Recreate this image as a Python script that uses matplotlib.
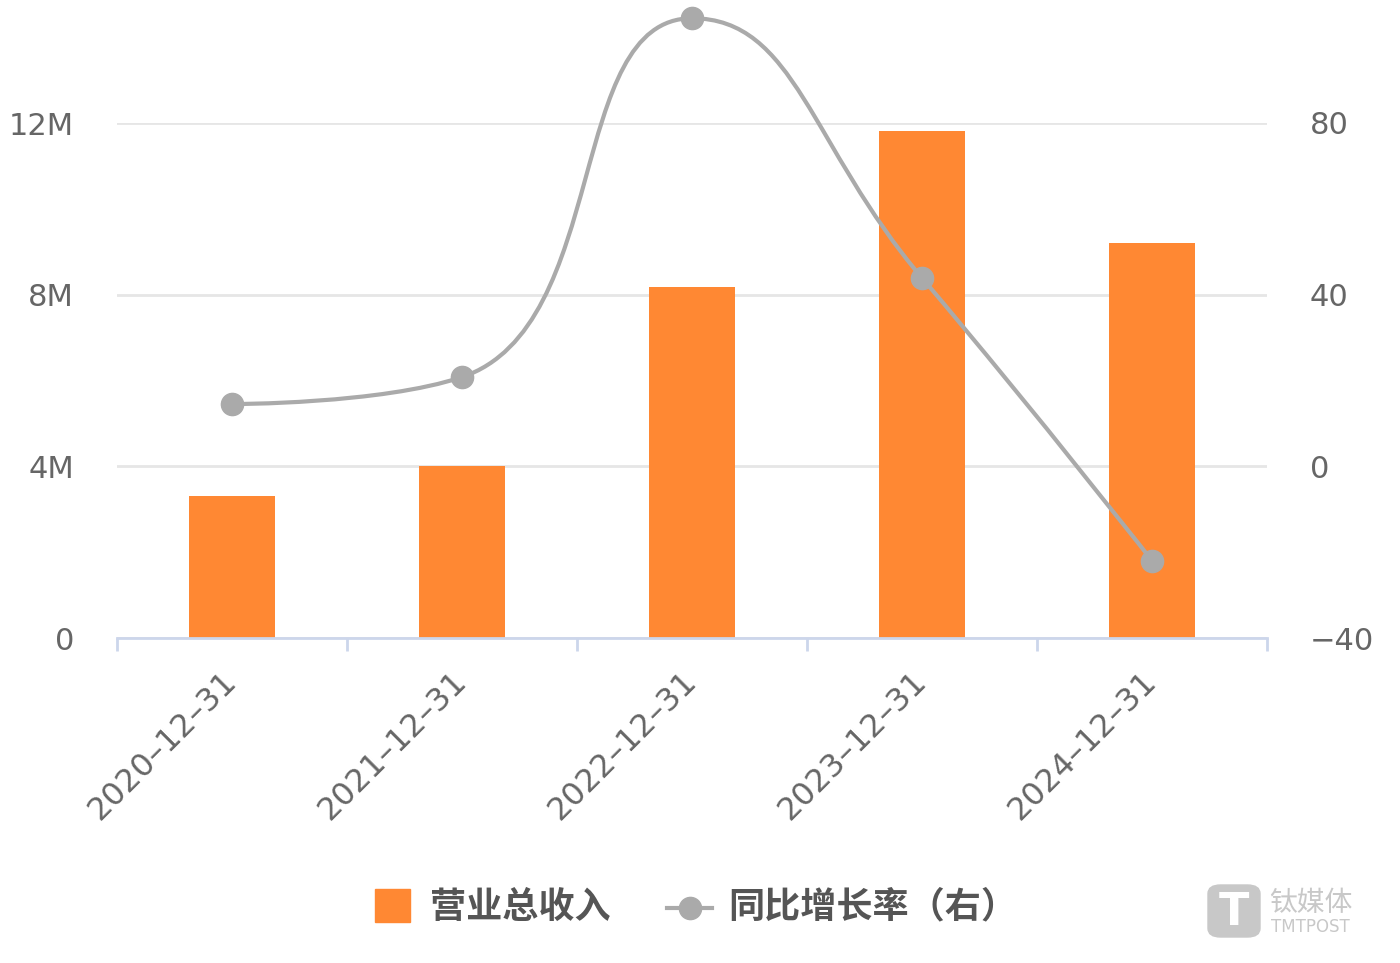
import matplotlib
matplotlib.use("Agg")
import matplotlib.pyplot as plt
from matplotlib.path import Path
from matplotlib.patches import PathPatch, Rectangle, FancyBboxPatch
from matplotlib.lines import Line2D
import numpy as np

plt.rcParams['font.family'] = ['DejaVu Sans', 'Noto Sans CJK SC']

# data
dates = ['2020-12-31', '2021-12-31', '2022-12-31', '2023-12-31', '2024-12-31']
revenue = [3.31, 4.00, 8.18, 11.82, 9.21]   # 百万 (M)
growth = [14.5, 20.8, 104.4, 43.9, -22.0]   # %
left_ticks = [0, 4, 8, 12]
left_labels = ['0', '4M', '8M', '12M']
right_ticks = [-40, 0, 40, 80]

bar_color = '#FF8833'
line_color = '#AAAAAA'
grid_color = '#E6E6E6'
axis_color = '#CCD6EB'
text_color = '#666666'


def smooth_path(pts, smooth=0.5):
    # bezier smoothing with per-segment clamping of control points
    verts = [pts[0]]
    codes = [Path.MOVETO]
    cp0 = pts[0]
    n = len(pts)
    for i in range(1, n):
        p = pts[i]
        prev = pts[i - 1]
        if i == n - 1:
            cp1 = p
            nxt_cp = p
        else:
            nxt = pts[i + 1]
            v = nxt - prev
            len_prev = np.hypot(*(p - prev))
            len_next = np.hypot(*(nxt - p))
            r = len_next / (len_next + len_prev)
            nxt_cp = p + v * smooth * r
            nxt_cp = np.minimum(nxt_cp, np.maximum(nxt, p))
            nxt_cp = np.maximum(nxt_cp, np.minimum(nxt, p))
            v = nxt_cp - p
            cp1 = p - v * len_prev / len_next
            cp1 = np.minimum(cp1, np.maximum(prev, p))
            cp1 = np.maximum(cp1, np.minimum(prev, p))
            v = p - cp1
            nxt_cp = p + v * len_next / len_prev
        verts += [cp0, cp1, p]
        codes += [Path.CURVE4] * 3
        cp0 = nxt_cp
    return np.array(verts), codes


W, H = 1400, 963
fig = plt.figure(figsize=(W / 100, H / 100), dpi=100)
ax = fig.add_axes([117 / W, 1 - 638 / H, 1150 / W, 515 / H])
ax2 = ax.twinx()

x = np.arange(len(dates))
ax.bar(x, revenue, width=0.37, color=bar_color, zorder=2)
ax.set_xlim(-0.5, len(dates) - 0.5)
ax.set_ylim(0, 12)
ax2.set_ylim(-40, 80)

ax.set_yticks(left_ticks)
ax.set_yticklabels(left_labels)
ax2.set_yticks(right_ticks)
ax2.set_yticklabels([str(t).replace('-', '\u2212') for t in right_ticks])
for a in (ax, ax2):
    a.tick_params(axis='y', length=0, labelsize=22, labelcolor=text_color, pad=31)
    for s in a.spines.values():
        s.set_visible(False)
ax.grid(axis='y', color=grid_color, linewidth=2, zorder=0)
ax.set_axisbelow(True)
ax.spines['bottom'].set_visible(True)
ax.spines['bottom'].set_color(axis_color)
ax.spines['bottom'].set_linewidth(2)

# category boundaries as ticks, labels at centers
ax.set_xticks(np.arange(-0.5, len(dates)), minor=False)
ax.set_xticklabels([''] * (len(dates) + 1))
ax.tick_params(axis='x', length=9, width=2, color=axis_color)
ax.set_xticks(x, minor=True)
ax.set_xticklabels([d.replace('-', '\u2013') for d in dates], minor=True, rotation=45,
                   ha='right', va='center', rotation_mode='anchor', fontsize=23,
                   color=text_color)
ax.tick_params(axis='x', which='minor', length=0, pad=28)

# smoothed growth line, built in pixel space
fig.canvas.draw()
pts = ax2.transData.transform(np.column_stack([x, growth]))
verts, codes = smooth_path(pts)
verts = ax2.transData.inverted().transform(verts)
ax2.add_patch(PathPatch(Path(verts, codes), facecolor='none', edgecolor=line_color,
                        linewidth=3, clip_on=False, zorder=3))
ax2.plot(x, growth, 'o', color=line_color, markersize=16, clip_on=False, zorder=4)

# legend
cjk = ['Noto Sans CJK SC', 'DejaVu Sans']
fig.patches.append(Rectangle((375 / W, 1 - 922 / H), 35 / W, 33 / H,
                             transform=fig.transFigure, color=bar_color))
fig.text(430 / W, 1 - 907 / H, '营业总收入', family=cjk, fontsize=26, fontweight='bold',
         color='#555555', va='center', ha='left')
fig.lines.append(Line2D([667 / W, 712 / W], [1 - 908 / H] * 2, transform=fig.transFigure,
                        color=line_color, linewidth=3))
fig.lines.append(Line2D([689.5 / W], [1 - 908 / H], transform=fig.transFigure,
                        color=line_color, marker='o', markersize=16))
fig.text(728 / W, 1 - 907 / H, '同比增长率（右）', family=cjk, fontsize=26, fontweight='bold',
         color='#555555', va='center', ha='left')

# watermark
wm = '#C8C8C8'
fig.patches.append(FancyBboxPatch((1208 / W, 1 - 937 / H), 52 / W, 52 / H,
                                  boxstyle='round,pad=0,rounding_size=0.009',
                                  transform=fig.transFigure, color=wm))
fig.text(1234 / W, 1 - 912 / H, 'T', fontsize=32, fontweight='bold', color='white',
         ha='center', va='center')
fig.text(1269 / W, 1 - 903 / H, '钛媒体', family=cjk, fontsize=20, color=wm,
         ha='left', va='center')
fig.text(1271 / W, 1 - 927 / H, 'TMTPOST', fontsize=12, color=wm, ha='left', va='center')

fig.savefig('out.png', dpi=100, facecolor='white')
